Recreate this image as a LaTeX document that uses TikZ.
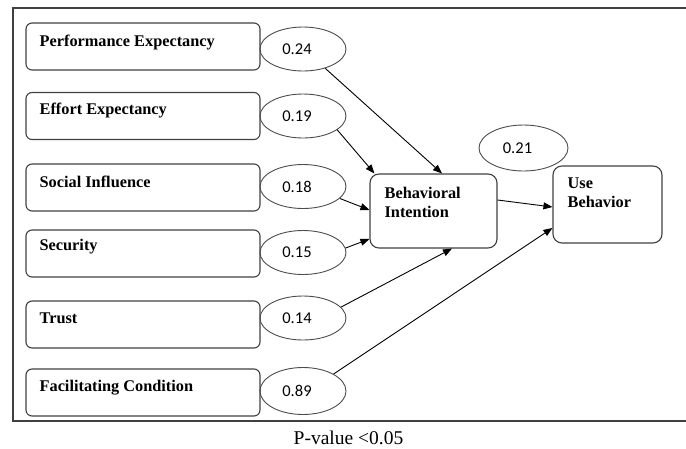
\documentclass[tikz,border=0pt]{standalone}
\usepackage{fontspec}
\setmainfont{Liberation Serif}
\newfontfamily\numfont{Carlito}
\usetikzlibrary{arrows.meta,shapes.geometric}
\begin{document}
\begin{tikzpicture}[x=1pt,y=-1pt,
  facbox/.style={draw=black!75,line width=1.1pt,rounded corners=6pt,minimum width=234pt,minimum height=47pt,inner sep=0pt},
  bigbox/.style={draw=black!75,line width=1.1pt,rounded corners=9pt,inner sep=0pt},
  boxtext/.style={anchor=base west,inner sep=0pt,font=\fontsize{16.3}{19.5}\selectfont\bfseries},
  coef/.style={draw=black!70,line width=0.9pt,ellipse,minimum width=86pt,minimum height=44pt,inner sep=0pt},
  coeftext/.style={inner sep=0pt,font=\numfont\fontsize{16.5}{18}\selectfont},
  arr/.style={-{Triangle[length=9pt,width=7pt]},line width=0.9pt,black}
]
\useasboundingbox (0,0) rectangle (686,448);
\draw[line width=1.4pt,black!75] (690,8) -- (13,8) -- (13,421) -- (690,421);

% factor boxes
\node[facbox] (pe) at (143,46.5) {};
\node[facbox] (ee) at (143,116) {};
\node[facbox] (si) at (143,187.5) {};
\node[facbox] (sec) at (143,253.5) {};
\node[facbox] (tr) at (143,324.5) {};
\node[facbox] (fc) at (143,392.5) {};
\node[boxtext] (tpe) at ([xshift=14pt,yshift=-24pt]pe.north west) {Performance Expectancy};
\node[boxtext] (tee) at ([xshift=14pt,yshift=-23pt]ee.north west) {Effort Expectancy};
\node[boxtext] (tsi) at ([xshift=14pt,yshift=-24pt]si.north west) {Social Influence};
\node[boxtext] (tsec) at ([xshift=14pt,yshift=-21pt]sec.north west) {Security};
\node[boxtext] (ttr) at ([xshift=14pt,yshift=-23pt]tr.north west) {Trust};
\node[boxtext] (tfc) at ([xshift=14pt,yshift=-23pt]fc.north west) {Facilitating Condition};

% central boxes
\node[bigbox,minimum width=127pt,minimum height=74pt] (bi) at (433.5,211) {};
\node[bigbox,minimum width=109pt,minimum height=77pt] (ub) at (607.5,204.5) {};
\node[boxtext] (tbi) at ([xshift=15pt,yshift=-25pt]bi.north west) {\begin{tabular}[t]{@{}l@{}}Behavioral\\Intention\end{tabular}};
\node[boxtext] (tub) at ([xshift=15pt,yshift=-23pt]ub.north west) {\begin{tabular}[t]{@{}l@{}}Use\\Behavior\end{tabular}};

% coefficient ellipses
\node[coef] (e1) at (303,49) {};
\node[coef] (e2) at (303,116) {};
\node[coef] (e3) at (303,186.5) {};
\node[coef] (e4) at (303,252.5) {};
\node[coef] (e5) at (303,318) {};
\node[coef,minimum height=47pt] (e6) at (303,391) {};
\node[coef,minimum width=89pt,minimum height=46pt] (e7) at (523.5,148) {};
\node[coeftext] (c1) at ([xshift=-6pt]e1.center) {0.24};
\node[coeftext] (c2) at ([xshift=-6pt]e2.center) {0.19};
\node[coeftext] (c3) at ([xshift=-6pt]e3.center) {0.18};
\node[coeftext] (c4) at ([xshift=-6pt]e4.center) {0.15};
\node[coeftext] (c5) at ([xshift=-6pt]e5.center) {0.14};
\node[coeftext] (c6) at ([xshift=-6pt]e6.center) {0.89};
\node[coeftext] (c7) at ([xshift=-6pt]e7.center) {0.21};

% arrows
\draw[arr] (e1.-41) -- ([xshift=8.5pt]bi.north);
\draw[arr] (e2.-22) -- ([xshift=5pt]bi.north west);
\draw[arr] (e3.-18) -- ([yshift=1pt]bi.west);
\draw[arr] (e4.6) -- ([yshift=-28pt]bi.west);
\draw[arr] (e5.16) -- ([xshift=18.5pt]bi.south);
\draw[arr] (e6.29) -- ([yshift=-23.5pt]ub.west);
\draw[arr] ([yshift=11pt]bi.east) -- ([yshift=-2.5pt]ub.west);

% caption
\node[anchor=base,inner sep=0pt,font=\fontsize{19.5}{22}\selectfont] (cap) at (348.5,444.5) {P-value <0.05};
\end{tikzpicture}
\end{document}
